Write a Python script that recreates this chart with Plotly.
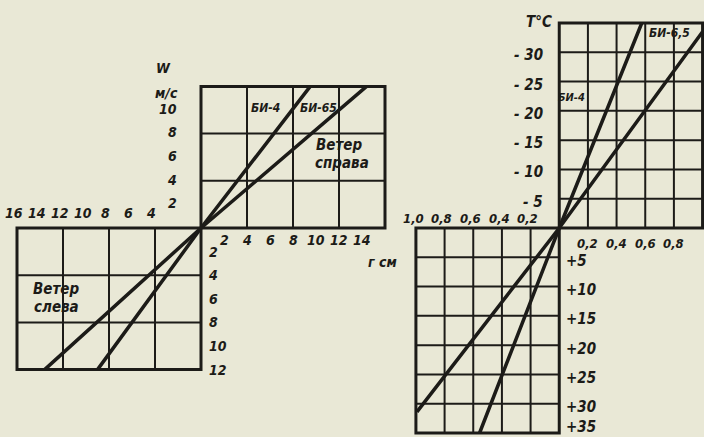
import plotly.graph_objects as go

# ---- left nomogram: wind W (m/s) against deflection r (cm) ----
left_grid_r = [0, 4, 8, 12, 16]
left_grid_w = [0, 4, 8, 12]
bi4_r = [-9.0, 0, 9.5]
bi4_w = [-12, 0, 12]
bi65_r = [-13.6, 0, 14.4]
bi65_w = [-12, 0, 12]
r_ticks_right = [2, 4, 6, 8, 10, 12, 14]
r_ticks_left = [16, 14, 12, 10, 8, 6, 4]
w_ticks_up = [2, 4, 6, 8, 10]
w_ticks_down = [2, 4, 6, 8, 10, 12]

# ---- right nomogram: temperature T (°C) against deflection ----
right_grid_x = [0, 0.2, 0.4, 0.6, 0.8, 1.0]
right_grid_t = [0, 5, 10, 15, 20, 25, 30, 35]
t_bi4_x = [-0.556, 0, 0.576]
t_bi4_t = [35, 0, -35]
t_bi65_x = [-0.993, 0, 1.0]
t_bi65_t = [31.4, 0, -33.5]
x_ticks_left = [1.0, 0.8, 0.6, 0.4, 0.2]
x_ticks_right = [0.2, 0.4, 0.6, 0.8]
t_ticks_up = [-5, -10, -15, -20, -25, -30]
t_ticks_down = [5, 10, 15, 20, 25, 30, 35]

INK = "#1c1b18"
PAPER = "#e9e8d6"
FONT = "DejaVu Sans Condensed, Liberation Sans Narrow, DejaVu Sans"

fig = go.Figure()

# curves
fig.add_trace(go.Scatter(x=bi4_r, y=bi4_w, mode="lines", line=dict(color=INK, width=3.5),
                         xaxis="x", yaxis="y", showlegend=False))
fig.add_trace(go.Scatter(x=bi65_r, y=bi65_w, mode="lines", line=dict(color=INK, width=3.5),
                         xaxis="x", yaxis="y", showlegend=False))
fig.add_trace(go.Scatter(x=t_bi4_x, y=t_bi4_t, mode="lines", line=dict(color=INK, width=3.5),
                         xaxis="x2", yaxis="y2", showlegend=False))
fig.add_trace(go.Scatter(x=t_bi65_x, y=t_bi65_t, mode="lines", line=dict(color=INK, width=3.5),
                         xaxis="x2", yaxis="y2", showlegend=False))

shapes = []


def grid_box(xs, ys, sx, sy, xr, yr):
    # one quadrant box: thin inner lines plus a heavy frame
    x0, x1 = sx * xs[0], sx * xs[-1]
    y0, y1 = sy * ys[0], sy * ys[-1]
    for v in xs[1:-1]:
        shapes.append(dict(type="line", xref=xr, yref=yr, x0=sx * v, x1=sx * v, y0=y0, y1=y1,
                           line=dict(color=INK, width=2)))
    for v in ys[1:-1]:
        shapes.append(dict(type="line", xref=xr, yref=yr, x0=x0, x1=x1, y0=sy * v, y1=sy * v,
                           line=dict(color=INK, width=2)))
    shapes.append(dict(type="rect", xref=xr, yref=yr, x0=x0, x1=x1, y0=y0, y1=y1,
                       line=dict(color=INK, width=3)))


grid_box(left_grid_r, left_grid_w, 1, 1, "x", "y")
grid_box(left_grid_r, left_grid_w, -1, -1, "x", "y")
grid_box(right_grid_x, right_grid_t, 1, -1, "x2", "y2")
grid_box(right_grid_x, right_grid_t, -1, 1, "x2", "y2")

ann = []


def label(text, x, y, xr, yr, size=14, xanchor="center"):
    ann.append(dict(text=text, x=x, y=y, xref=xr, yref=yr, showarrow=False, xanchor=xanchor,
                    yanchor="middle",
                    font=dict(family=FONT, size=size, color=INK, weight="bold", style="italic")))


# left chart tick labels
for v in r_ticks_right:
    label(str(v), v, -1.0, "x", "y")
for v in r_ticks_left:
    label(str(v), -v - 0.3, 1.27, "x", "y")
for v in w_ticks_up:
    label(str(v), -1.9, v + 0.1, "x", "y", xanchor="right")
for v in w_ticks_down:
    label(str(v), 0.5, -v, "x", "y", xanchor="left")
label("W", -3.3, 13.6, "x", "y", size=14)
label("м/с", -1.8, 11.45, "x", "y", size=14, xanchor="right")
label("г см", 15.8, -2.9, "x", "y", size=14)
label("БИ-4", 5.65, 10.2, "x", "y", size=12)
label("БИ-65", 10.2, 10.2, "x", "y", size=12)
# two-line notes, set as separate lines to keep them tight like the drawing
label("Ветер", 9.8, 7.05, "x", "y", size=15, xanchor="left")
label("справа", 9.7, 5.5, "x", "y", size=15, xanchor="left")
label("Ветер", -14.8, -5.15, "x", "y", size=15, xanchor="left")
label("слева", -14.7, -6.7, "x", "y", size=15, xanchor="left")

# right chart tick labels
for v in x_ticks_left:
    label(f"{v:.1f}".replace(".", ","), -v - 0.02, -1.7, "x2", "y2", size=13)
for v in x_ticks_right:
    label(f"{v:.1f}".replace(".", ","), v, 2.7, "x2", "y2", size=13)
for v in t_ticks_up:
    label(f"- {-v}", -0.1, v + 0.5, "x2", "y2", size=15, xanchor="right")
for v in t_ticks_down:
    label(f"+{v}", 0.03, min(v + 0.6, 34.0), "x2", "y2", size=15, xanchor="left")
label("T°C", -0.035, -35.2, "x2", "y2", size=15, xanchor="right")
label("БИ-4", 0.085, -22.2, "x2", "y2", size=11)
label("БИ-6,5", 0.77, -33.3, "x2", "y2", size=12)

fig.update_layout(
    width=704,
    height=437,
    margin=dict(l=0, r=0, t=0, b=0),
    paper_bgcolor=PAPER,
    plot_bgcolor=PAPER,
    shapes=shapes,
    annotations=ann,
    xaxis=dict(domain=[0, 395 / 704], range=[-201 / 11.5, 194 / 11.5], visible=False),
    yaxis=dict(domain=[0, 1], range=[-209 / 11.8, 228 / 11.8], visible=False),
    xaxis2=dict(domain=[400 / 704, 1], range=[-160 / 144, 1.01], visible=False),
    yaxis2=dict(domain=[0, 1], range=[209 / 5.857, -228 / 5.857], visible=False),
)

# drop the page's default body margin so the figure sits flush in the window
fig.write_html("out.html", config={"displayModeBar": False},
               post_script="document.body.style.margin='0';")
